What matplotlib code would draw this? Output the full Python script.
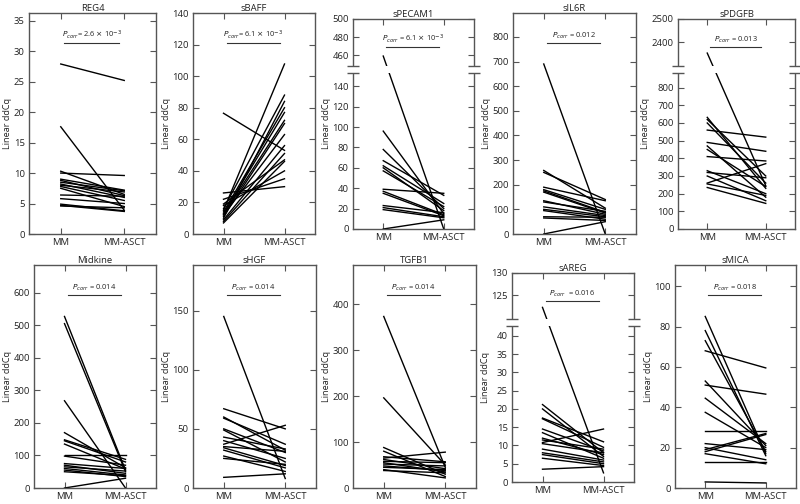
import matplotlib
matplotlib.use("Agg")
import matplotlib.pyplot as plt
import numpy as np
from matplotlib.ticker import MultipleLocator

plt.rcParams['font.family'] = ['Open Sans', 'DejaVu Sans']

# ---------------- data ----------------
groups = ["MM", "MM-ASCT"]

reg4_mm   = [27.9, 17.6, 10.3, 10.0, 9.0, 8.8, 8.5, 8.2, 8.0, 7.8, 7.5, 6.4, 5.8, 4.9, 4.7, 4.6]
reg4_asct = [25.2, 3.9, 6.5, 9.6, 7.2, 6.3, 7.1, 6.0, 6.9, 5.5, 4.5, 6.2, 5.0, 3.8, 3.7, 4.3]

sbaff_mm   = [76.5, 26, 22, 19, 18, 16, 15, 14, 13, 12.5, 12, 11, 10, 9, 8, 7]
sbaff_asct = [53, 30, 35, 47, 40, 88, 107.7, 80, 77, 72, 63, 70, 84, 56, 51, 46]

specam1_mm   = [459, 96, 78, 67, 62, 60, 57, 39, 37, 35, 23, 21, 19, 0]
specam1_asct = [0, 15, 20, 33, 25, 18, 22, 35, 14, 13, 16, 12, 11, 9]

sil6r_mm   = [690, 258, 250, 190, 180, 175, 170, 135, 130, 110, 100, 95, 70, 65, 0]
sil6r_asct = [0, 105, 140, 135, 100, 88, 85, 80, 92, 75, 70, 60, 68, 55, 50]

spdgfb_mm   = [2355, 632, 620, 600, 560, 490, 470, 450, 410, 330, 320, 300, 260, 255, 235]
spdgfb_asct = [245, 230, 300, 260, 520, 440, 180, 240, 385, 200, 290, 160, 370, 190, 145]

midkine_mm   = [527, 505, 268, 170, 148, 145, 135, 100, 98, 75, 70, 65, 60, 55, 50, 0]
midkine_asct = [55, 50, 0, 62, 88, 80, 58, 100, 70, 60, 45, 52, 40, 35, 38, 30]

shgf_mm   = [145, 67, 60, 59, 50, 49, 43, 40, 37, 35, 34, 32, 27, 25, 9]
shgf_asct = [8, 50, 32, 37, 30, 22, 33, 25, 53, 31, 19, 17, 14, 20, 12]

tgfb1_mm   = [373, 196, 88, 80, 68, 65, 62, 58, 55, 52, 48, 45, 40, 38]
tgfb1_asct = [45, 50, 30, 25, 57, 78, 42, 55, 35, 48, 38, 40, 22, 33]

sareg_mm   = [122.3, 21.2, 20, 17.5, 17.3, 14.5, 13.5, 12, 11.5, 10.8, 10.5, 9, 8, 7.5, 6.5, 3.5]
sareg_asct = [2.5, 8, 7, 11, 9.5, 8.5, 6.5, 7.5, 9, 14.5, 8, 6, 5.5, 5, 4.5, 4.2]

smica_mm   = [85, 78, 73, 68, 53, 51, 44.5, 37.5, 28, 22, 20, 19, 18, 17, 13, 3]
smica_asct = [17, 16, 18, 59.5, 21, 46.5, 22, 20, 28, 19, 14, 27, 26.5, 12, 13, 2.5]

p_texts = {
    "REG4": r"$P_{corr}$= 2.6 $\times$ 10$^{-3}$",
    "sBAFF": r"$P_{corr}$= 6.1 $\times$ 10$^{-3}$",
    "sPECAM1": r"$P_{corr}$ = 6.1 $\times$ 10$^{-3}$",
    "sIL6R": r"$P_{corr}$ = 0.012",
    "sPDGFB": r"$P_{corr}$ = 0.013",
    "Midkine": r"$P_{corr}$ = 0.014",
    "sHGF": r"$P_{corr}$ = 0.014",
    "TGFB1": r"$P_{corr}$ = 0.014",
    "sAREG": r"$P_{corr}$  = 0.016",
    "sMICA": r"$P_{corr}$ = 0.018",
}

# ---------------- drawing ----------------
W, H = 800, 504
fig = plt.figure(figsize=(W / 100, H / 100), dpi=100)
SP = '#555555'
TXT = '#222222'


def make_scale(pin, pout):
    pin = np.asarray(pin, float)
    pout = np.asarray(pout, float)
    s0 = (pout[1] - pout[0]) / (pin[1] - pin[0])
    s1 = (pout[-1] - pout[-2]) / (pin[-1] - pin[-2])

    def f(y, a=pin, b=pout, sa=s0, sb=s1):
        y = np.asarray(y, float)
        out = np.interp(y, a, b)
        out = np.where(y < a[0], b[0] + (y - a[0]) * sa, out)
        out = np.where(y > a[-1], b[-1] + (y - a[-1]) * sb, out)
        return out

    def g(v, a=pin, b=pout, sa=s0, sb=s1):
        v = np.asarray(v, float)
        out = np.interp(v, b, a)
        out = np.where(v < b[0], a[0] + (v - b[0]) / sa, out)
        out = np.where(v > b[-1], a[-1] + (v - b[-1]) / sb, out)
        return out
    return f, g


def panel(rect, title, mm, asct, step=None, brk=None):
    l, t, r, b = rect
    ax = fig.add_axes([l / W, 1 - b / H, (r - l) / W, (b - t) / H])
    for a, c in zip(mm, asct):
        ax.plot([0, 1], [a, c], color='k', lw=1.0, zorder=2)
    ax.set_xlim(-0.5, 1.5)
    ax.set_xticks([0, 1])
    ax.set_xticklabels(groups)
    top = 1.3 * max(max(mm), max(asct))
    if brk is None:
        ax.set_ylim(0, top)
        ax.yaxis.set_major_locator(MultipleLocator(step))
    else:
        lo_top, hi_bot, hi_top, L, G, U, lticks, uticks = brk
        f, g = make_scale([0, lo_top, hi_bot, hi_top], [0, L, L + G, L + G + U])
        ax.set_yscale('function', functions=(f, g))
        ax.set_ylim(0, hi_top)
        ax.set_yticks(list(lticks) + list(uticks))
        y0 = L / (L + G + U)
        y1 = (L + G) / (L + G + U)
        ax.add_patch(plt.Rectangle((-0.05, y0), 1.1, y1 - y0, transform=ax.transAxes,
                                   facecolor='white', edgecolor='none', clip_on=False, zorder=3))
        for yy in (y0, y1):
            ax.plot([0, 1], [yy, yy], transform=ax.transAxes, linestyle='none',
                    marker='_', ms=8, mew=1.0, color=SP, clip_on=False, zorder=5)
    for s in ax.spines.values():
        s.set_color(SP)
        s.set_linewidth(1.0)
    ax.tick_params(direction='in', length=4, width=0.8, color=SP, top=True, right=True,
                   labelsize=6.8, labelcolor=TXT, pad=3)
    ax.set_ylabel("Linear ddCq", fontsize=6.6, color=TXT, labelpad=1)
    ax.set_title(title, fontsize=6.8, color=TXT, pad=1.5)
    tr = ax.get_xaxis_transform()
    ax.plot([0.05, 0.92], [0.865, 0.865], transform=tr, color='#333333', lw=0.8, zorder=4)
    ax.text(0.485, 0.875, p_texts[title], transform=tr, ha='center', va='bottom',
            fontsize=5.4, color=TXT, zorder=4)
    return ax


panel((29, 13, 156, 234), "REG4", reg4_mm, reg4_asct, step=5)
panel((193, 13, 315, 234), "sBAFF", sbaff_mm, sbaff_asct, step=20)
panel((353, 19, 474, 229), "sPECAM1", specam1_mm, specam1_asct,
      brk=(153, 448, 500, 156, 7, 47, range(0, 141, 20), [460, 480, 500]))
panel((513, 13, 636, 234), "sIL6R", sil6r_mm, sil6r_asct, step=100)
panel((678, 19, 795, 229), "sPDGFB", spdgfb_mm, spdgfb_asct,
      brk=(883, 2300, 2500, 156, 7, 47, range(0, 801, 100), [2400, 2500]))

panel((34, 265, 156, 488), "Midkine", midkine_mm, midkine_asct, step=100)
panel((193, 265, 316, 488), "sHGF", shgf_mm, shgf_asct, step=50)
panel((353, 265, 476, 488), "TGFB1", tgfb1_mm, tgfb1_asct, step=100)
panel((512, 273, 634, 482), "sAREG", sareg_mm, sareg_asct,
      brk=(42.7, 119.7, 130, 156, 7, 46, range(0, 41, 5), [125, 130]))
panel((675, 265, 796, 488), "sMICA", smica_mm, smica_asct, step=20)

fig.savefig("out.png", dpi=100)
